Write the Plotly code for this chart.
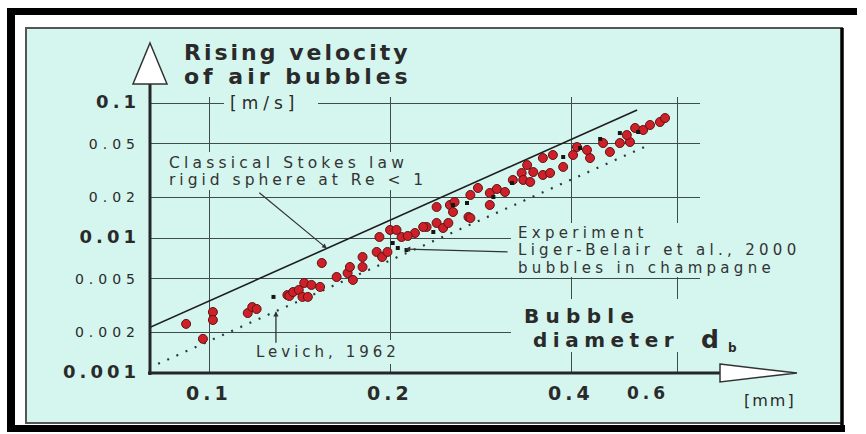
import math
import plotly.graph_objects as go

W, H = 866, 434

# ---------------- data ----------------
# Experiment, Liger-Belair et al. 2000 (red circles): diameter [mm], velocity [m/s]
red_d = [0.0916, 0.1015, 0.1015, 0.0977, 0.116, 0.118, 0.120, 0.135, 0.136, 0.138,
         0.141, 0.143, 0.144, 0.148, 0.153, 0.154, 0.163, 0.170, 0.1715, 0.180,
         0.1735, 0.180, 0.190, 0.194, 0.198, 0.192, 0.200, 0.209, 0.220, 0.230,
         0.239, 0.245, 0.239, 0.2515, 0.270, 0.293, 0.256, 0.272, 0.280, 0.293,
         0.301, 0.3105, 0.320, 0.331, 0.333, 0.272, 0.2545, 0.227, 0.214, 0.205,
         0.250, 0.342, 0.359, 0.369, 0.346, 0.359, 0.388, 0.403, 0.409, 0.430,
         0.425, 0.464, 0.452, 0.482, 0.501, 0.495, 0.511, 0.527, 0.541, 0.562,
         0.573, 0.338, 0.373, 0.146]
red_v = [0.00231, 0.00283, 0.00247, 0.00179, 0.00278, 0.00308, 0.00298, 0.00378, 0.00372, 0.00398,
         0.00412, 0.00366, 0.00464, 0.00449, 0.00434, 0.00653, 0.00514, 0.00550, 0.00610, 0.00610,
         0.00489, 0.00723, 0.00788, 0.00723, 0.00788, 0.01017, 0.01147, 0.01017, 0.01089, 0.01207,
         0.01292, 0.01186, 0.01697, 0.01756, 0.01431, 0.01756, 0.01848, 0.02083, 0.02347, 0.02154,
         0.02307, 0.02191, 0.0269, 0.0303, 0.0269, 0.01406, 0.01558, 0.01207, 0.01035, 0.01147,
         0.01292, 0.0260, 0.0293, 0.0303, 0.0308, 0.0391, 0.0336, 0.0412, 0.0472, 0.0391,
         0.0449, 0.0434, 0.0505, 0.0505, 0.0514, 0.0579, 0.0653, 0.0631, 0.0687, 0.0723,
         0.0774, 0.0347, 0.0412, 0.00366]

# small dark marks inside the cloud
black_d = [0.128, 0.206, 0.202, 0.213, 0.236, 0.2545, 0.2685, 0.297, 0.319, 0.388,
           0.414, 0.447, 0.482, 0.517]
black_v = [0.00366, 0.00843, 0.00918, 0.00815, 0.01108, 0.01756, 0.01817, 0.02012, 0.02555, 0.0398,
           0.0464, 0.0541, 0.0599, 0.0610]

# Classical Stokes law (solid) and Levich 1962 (dotted), end points
stokes_d = [0.0798, 0.515]
stokes_v = [0.00218, 0.0888]
levich_d = [0.0823, 0.531]
levich_v = [0.00117, 0.0475]

ytick_vals = [0.001, 0.002, 0.005, 0.01, 0.02, 0.05, 0.1]
ytick_text = ["0.001", "0.002", "0.005", "0.01", "0.02", "0.05", "0.1"]
ytick_major = [True, False, False, True, False, False, True]
xtick_vals = [0.1, 0.2, 0.4, 0.6]
xtick_text = ["0.1", "0.2", "0.4", "0.6"]

# ---------------- styling ----------------
FONT = "DejaVu Sans"
PANEL = "#d4f6ee"
GRID = "#3f4d4a"
TXT = "#2a2a2a"


def px(x):
    return x / W


def py(y):
    return 1 - y / H


def sp(t, s):
    return f'<span style="letter-spacing:{s}px">{t}</span>'


def on_line(ds, vs, d):
    # log-log interpolation along a drawn line
    l0, l1 = math.log10(ds[0]), math.log10(ds[1])
    m0, m1 = math.log10(vs[0]), math.log10(vs[1])
    t = (math.log10(d) - l0) / (l1 - l0)
    return m0 + t * (m1 - m0)


fig = go.Figure()

fig.add_trace(go.Scatter(x=stokes_d, y=stokes_v, mode="lines",
                         line=dict(color="#1e1e1e", width=1.6), hoverinfo="skip"))
fig.add_trace(go.Scatter(x=levich_d, y=levich_v, mode="lines",
                         line=dict(color="#2a3a40", width=2.2, dash="2px,8px"), hoverinfo="skip"))
fig.add_trace(go.Scatter(x=red_d, y=red_v, mode="markers",
                         marker=dict(size=9, color="#cf1f28", line=dict(color="#5b1515", width=1))))
fig.add_trace(go.Scatter(x=black_d, y=black_v, mode="markers",
                         marker=dict(size=4, color="#151515", symbol="square")))

shapes = []
# outer frame and panel
shapes.append(dict(type="rect", xref="paper", yref="paper", x0=px(7), x1=px(857), y0=py(8), y1=py(15),
                   fillcolor="black", line=dict(width=0), layer="below"))
shapes.append(dict(type="rect", xref="paper", yref="paper", x0=px(7), x1=px(15), y0=py(8), y1=py(432),
                   fillcolor="black", line=dict(width=0), layer="below"))
shapes.append(dict(type="rect", xref="paper", yref="paper", x0=px(7), x1=px(845), y0=py(425), y1=py(432),
                   fillcolor="black", line=dict(width=0), layer="below"))
shapes.append(dict(type="rect", xref="paper", yref="paper", x0=px(26), x1=px(842), y0=py(28), y1=py(423),
                   fillcolor=PANEL, line=dict(color="#555555", width=2), layer="below"))
shapes.append(dict(type="line", xref="paper", yref="paper", x0=px(842), x1=px(842), y0=py(28), y1=py(430),
                   line=dict(color="black", width=3.5), layer="below"))

# masks behind text blocks (hide grid lines)
for (a, b, c, d) in [(224, 94, 318, 113), (163, 152, 433, 190), (511, 223, 706, 277),
                     (511, 299, 706, 352), (250, 340, 406, 364)]:
    shapes.append(dict(type="rect", xref="paper", yref="paper", x0=px(a), x1=px(c), y0=py(b), y1=py(d),
                       fillcolor=PANEL, line=dict(width=0), layer="above"))

# axes with arrows
shapes.append(dict(type="line", xref="paper", yref="paper", x0=px(150), x1=px(150), y0=py(375), y1=py(84),
                   line=dict(color="#262626", width=3), layer="above"))
shapes.append(dict(type="line", xref="paper", yref="paper", x0=px(148), x1=px(721), y0=py(373), y1=py(373),
                   line=dict(color="#262626", width=3), layer="above"))
shapes.append(dict(type="path", xref="paper", yref="paper",
                   path=f"M {px(150)},{py(43)} L {px(167)},{py(84)} L {px(133)},{py(84)} Z",
                   fillcolor="white", line=dict(color="#333333", width=1.5), layer="above"))
shapes.append(dict(type="path", xref="paper", yref="paper",
                   path=f"M {px(720)},{py(364)} L {px(797)},{py(373)} L {px(720)},{py(382)} Z",
                   fillcolor="white", line=dict(color="#333333", width=1.5), layer="above"))

ann = []


def text(x, y, t, size, bold=False, anchor="left", color=TXT):
    if bold:
        t = f"<b>{t}</b>"
    ann.append(dict(xref="paper", yref="paper", x=px(x), y=py(y), text=t, showarrow=False,
                    xanchor=anchor, yanchor="middle", font=dict(family=FONT, size=size, color=color)))


text(182, 53, sp("Rising velocity", 3), 22, bold=True)
text(182, 76, sp("of air bubbles", 4), 22, bold=True)
text(228, 103, sp("[m/s]", 5), 17)
text(167, 163, sp("Classical Stokes law", 4.2), 15.5, color="#333")
text(167, 180, sp("rigid sphere at Re &lt; 1", 4.0), 15.5, color="#333")
text(516, 233, sp("Experiment", 4.3), 15, color="#333")
text(516, 250, sp("Liger-Belair et al., 2000", 4.3), 15, color="#333")
text(516, 268, sp("bubbles in champagne", 4.3), 15, color="#333")
text(522, 316, sp("Bubble", 6.3), 20, bold=True)
text(531, 340, sp("diameter", 5.5), 20, bold=True)
text(699, 339, "d", 25, bold=True)
text(726, 348, "b", 12, bold=True)
text(254, 352, sp("Levich, 1962", 4), 15, color="#333")
text(742, 400, sp("[mm]", 2), 16)

# x tick labels
for v, t in zip(xtick_vals, xtick_text):
    last = (t == xtick_text[-1])
    ann.append(dict(xref="x", yref="paper", x=math.log10(v), y=py(393), text=f"<b>{sp(t, 4)}</b>",
                    showarrow=False, xanchor="center", yanchor="middle",
                    xshift=-29 if last else 0,
                    font=dict(family=FONT, size=17 if last else 19, color=TXT)))

# pointers
d_s = 0.157
ann.append(dict(xref="x", yref="y", x=math.log10(d_s), y=on_line(stokes_d, stokes_v, d_s), text="",
                showarrow=True, ax=-69, ay=-57, arrowhead=2, arrowsize=0.8, arrowwidth=1.2,
                arrowcolor="#333", standoff=0))
ann.append(dict(xref="x", yref="y", x=math.log10(0.2118), y=math.log10(0.00829), text="",
                showarrow=True, ax=104, ay=3, arrowhead=2, arrowsize=0.8, arrowwidth=1.3,
                arrowcolor="#333", standoff=0))
d_l = 0.1292
ann.append(dict(xref="x", yref="y", x=math.log10(d_l), y=on_line(levich_d, levich_v, d_l), text="",
                showarrow=True, ax=0, ay=33, arrowhead=2, arrowsize=0.8, arrowwidth=1.3,
                arrowcolor="#333", standoff=0))

yt = []
for t, m in zip(ytick_text, ytick_major):
    if m:
        yt.append(f'<b><span style="font-size:18px;letter-spacing:4px">{t}</span></b>')
    else:
        yt.append(f'<span style="font-size:14px;letter-spacing:5px">{t}</span>')

fig.update_layout(
    template="none",
    width=W, height=H, autosize=False,
    margin=dict(l=0, r=0, t=0, b=0),
    paper_bgcolor="white", plot_bgcolor="rgba(0,0,0,0)",
    showlegend=False,
    shapes=shapes, annotations=ann,
    xaxis=dict(type="log", range=[-1.0981, -0.1837], domain=[150 / W, 700 / W],
               tickvals=xtick_vals, showticklabels=False, showgrid=True,
               gridcolor=GRID, gridwidth=1.3, zeroline=False, showline=False, ticks=""),
    yaxis=dict(type="log", range=[-3, -0.95556], domain=[61 / H, 337 / H],
               tickvals=ytick_vals, ticktext=yt, showgrid=True, gridcolor=GRID, gridwidth=1.3,
               zeroline=False, showline=False, ticks="", ticklabelstandoff=9,
               tickfont=dict(family=FONT, size=14, color=TXT)),
)

fig.write_html("out.html",
               config={"displayModeBar": False},
               post_script="document.body.style.margin='0';document.body.style.padding='0';")
